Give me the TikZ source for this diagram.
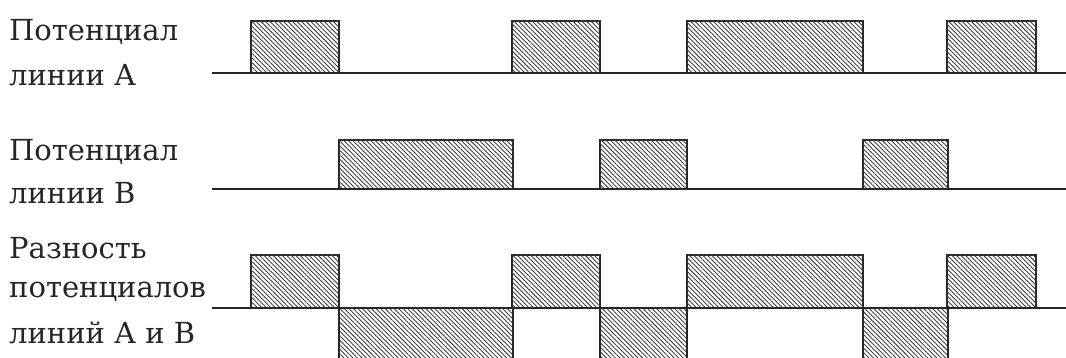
\documentclass[tikz,border=0pt]{standalone}
\usepackage{fontspec}
\setmainfont{DejaVu Serif}
\usetikzlibrary{patterns.meta}
\begin{document}
\begin{tikzpicture}[x=1pt,y=1pt,
  lbl/.style={anchor=west,inner sep=0pt,font=\fontsize{29}{32}\selectfont,text=black!85},
  wire/.style={line width=1.6pt,black!85},
  pulsebox/.style={line width=1.6pt,draw=black!85,fill=white,
    postaction={pattern={Lines[angle=-45,distance=3.2pt,line width=0.9pt]},pattern color=black!75}}]
\useasboundingbox (0,0) rectangle (1066,358);
% labels
\node[lbl] (a1) at (9,326) {Потенциал};
\node[lbl] (a2) at (9,283) {линии А};
\node[lbl] (b1) at (9,206) {Потенциал};
\node[lbl] (b2) at (9,165) {линии В};
\node[lbl] (d1) at (9,110) {Разность};
\node[lbl] (d2) at (9,66) {потенциалов};
\node[lbl] (d3) at (9,25) {линий А и В};
% row A
\foreach \l/\r in {251/339,512/600,687/863,947/1036}
  \path[pulsebox] (\l,285) rectangle (\r,337);
\draw[wire] (212,285) -- (1066,285);
% row B
\foreach \l/\r in {339/513,600/687,863/948}
  \path[pulsebox] (\l,169) rectangle (\r,218);
\draw[wire] (212,169) -- (1066,169);
% difference
\foreach \l/\r in {251/339,512/600,687/863,947/1036}
  \path[pulsebox] (\l,50) rectangle (\r,103);
\foreach \l/\r in {339/513,600/687,863/948}{
  \path[pattern={Lines[angle=-45,distance=3.2pt,line width=0.9pt]},pattern color=black!75] (\l,-2) rectangle (\r,50);
  \draw[wire] (\l,-2) -- (\l,50) -- (\r,50) -- (\r,-2);}
\draw[wire] (212,50) -- (1066,50);
\end{tikzpicture}
\end{document}
